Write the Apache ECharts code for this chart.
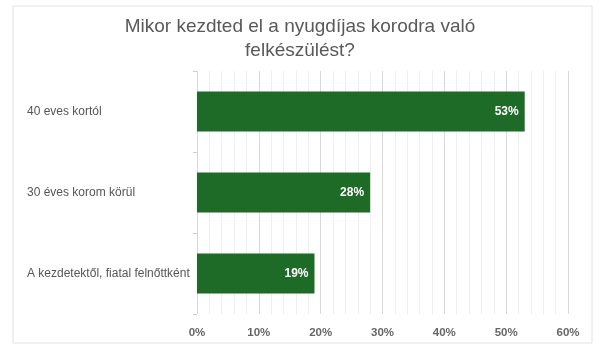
<!DOCTYPE html>
<html>
<head>
<meta charset="utf-8">
<script src="https://cdn.jsdelivr.net/npm/echarts@6/dist/echarts.min.js"></script>
<style>
html,body{margin:0;padding:0;background:#fff;}
#chart{width:600px;height:353px;}
</style>
</head>
<body>
<div id="chart"></div>
<script>
var categories = ['40 eves kortól', '30 éves korom körül', 'A kezdetektől, fiatal felnőttként'];
var values = [53, 28, 19];
var xTicks = [0, 10, 20, 30, 40, 50, 60];

var chart = echarts.init(document.getElementById('chart'));
var option = {
    animation: false,
    textStyle: {fontFamily: 'Liberation Sans, Arial, sans-serif'},
    title: {
        text: 'Mikor kezdted el a nyugdíjas korodra való\nfelkészülést?',
        left: 'center',
        top: 10,
        textStyle: {fontSize: 19, fontWeight: 'normal', color: '#595959', lineHeight: 24}
    },
    graphic: [{
        type: 'rect',
        shape: {x: 13, y: 6, width: 579, height: 337},
        style: {fill: 'none', stroke: '#e2e2e2', lineWidth: 1},
        silent: true
    }],
    grid: {left: 197, right: 32, top: 71, bottom: 39},
    xAxis: {
        type: 'value',
        min: 0,
        max: xTicks[xTicks.length - 1],
        interval: 10,
        axisLine: {show: false},
        axisTick: {show: false},
        axisLabel: {
            formatter: function(v){ return v + '%'; },
            color: '#666',
            fontWeight: 'bold',
            fontSize: 11.5,
            margin: 13
        },
        splitLine: {lineStyle: {color: '#d9d9d9'}},
        minorTick: {show: false, splitNumber: 5},
        minorSplitLine: {show: true, lineStyle: {color: '#eeeeee'}}
    },
    yAxis: {
        type: 'category',
        inverse: true,
        data: categories,
        axisLine: {show: false},
        axisTick: {show: true, length: 4, lineStyle: {color: '#cccccc'}},
        axisLabel: {
            align: 'left',
            margin: 170,
            color: '#555',
            fontSize: 12
        }
    },
    series: [{
        type: 'bar',
        data: values,
        barWidth: 40,
        itemStyle: {color: '#1d6b27'},
        label: {
            show: true,
            position: 'insideRight',
            formatter: function(p){ return p.value + '%'; },
            color: '#fff',
            fontWeight: 'bold',
            fontSize: 12,
            offset: [-1, 0]
        }
    }]
};
chart.setOption(option);
</script>
</body>
</html>
